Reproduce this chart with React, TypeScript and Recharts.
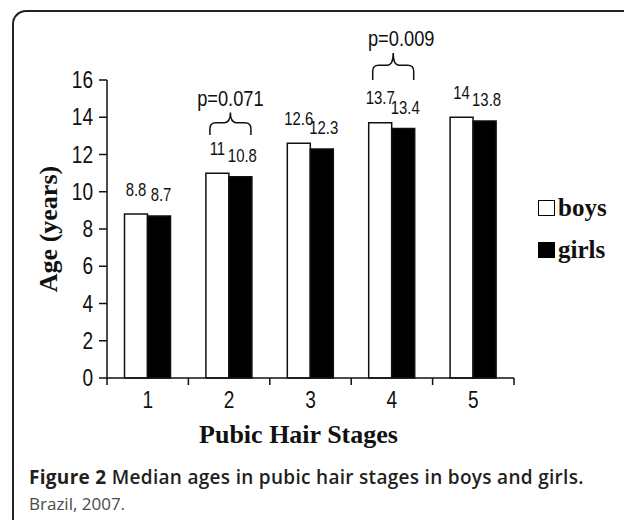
import React from 'react'
import { BarChart, Bar, XAxis, YAxis, LabelList } from 'recharts'

const stages = ['1', '2', '3', '4', '5']
const boys = [8.8, 11, 12.6, 13.7, 14]
const girls = [8.7, 10.8, 12.3, 13.4, 13.8]
const yTicks = [0, 2, 4, 6, 8, 10, 12, 14, 16]
const seriesNames = ['boys', 'girls']
const seriesFills = ['#fff', '#000']

// significance braces: stage, text, brace foot and tip (in years)
const pStages = ['2', '4']
const pTexts = ['p=0.071', 'p=0.009']
const pBase = [13.05, 16.0]
const pTip = [14.25, 17.45]

const data = stages.map((s, i) => ({ stage: s, boys: boys[i], girls: girls[i] }))

const sans = "'Liberation Sans', Arial, sans-serif"
const serif = "'Liberation Serif', 'Times New Roman', serif"
const ink = '#111'

// the original uses a condensed sans; squeeze regular text horizontally
function Narrow({ x, y, size, anchor = 'middle', children }: any) {
  return (
    <g transform={`translate(${x},${y}) scale(0.83,1)`}>
      <text x={0} y={0} textAnchor={anchor} fontFamily={sans} fontSize={size} fill={ink}>
        {children}
      </text>
    </g>
  )
}

function XTick(props: any) {
  const { x, y, payload, index, visibleTicksCount } = props
  const half = payload && payload.offset ? payload.offset : 40.7
  const last = index === (visibleTicksCount || stages.length) - 1
  return (
    <g>
      <line x1={x - half} x2={x - half} y1={y} y2={y + 7} stroke={ink} strokeWidth={1.5} />
      {last && <line x1={x + half} x2={x + half} y1={y} y2={y + 7} stroke={ink} strokeWidth={1.5} />}
      <Narrow x={x} y={y + 30} size={23}>{payload.value}</Narrow>
    </g>
  )
}

function YTick(props: any) {
  const { x, y, payload } = props
  return <Narrow x={x} y={y + 8} size={23} anchor="end">{payload.value}</Narrow>
}

function valueLabel(lift: number, dx: number) {
  return (props: any) => {
    const { x, y, width, value } = props
    return <Narrow x={x + width / 2 + dx} y={y - lift + 6.5} size={18}>{value}</Narrow>
  }
}

function Brace(props: any) {
  const { x, y, width, height, value, index } = props
  const k = pStages.indexOf(stages[index])
  if (k < 0) return null
  const unit = height / value
  const bottom = y + height
  const yBase = bottom - pBase[k] * unit
  const yTip = bottom - pTip[k] * unit
  const yMid = yBase + (yTip - yBase) * 0.55
  const x1 = x + 4
  const x2 = x + 2 * width - 1
  const xc = (x1 + x2) / 2
  const r = 6
  const d = `M${x1},${yBase} L${x1},${yMid + r} Q${x1},${yMid} ${x1 + r},${yMid} L${xc - r},${yMid} Q${xc},${yMid} ${xc},${yTip} Q${xc},${yMid} ${xc + r},${yMid} L${x2 - r},${yMid} Q${x2},${yMid} ${x2},${yMid + r} L${x2},${yBase}`
  return (
    <g>
      <path d={d} fill="none" stroke={ink} strokeWidth={1.5} />
      <Narrow x={xc + (k === 1 ? 8 : 0)} y={yTip - 7} size={22}>{pTexts[k]}</Narrow>
    </g>
  )
}

export default function App() {
  return (
    <div style={{ position: 'absolute', left: 0, top: 0, width: 624, height: 521, background: '#fff', overflow: 'hidden' }}>
      <div
        style={{
          position: 'absolute',
          left: 12,
          top: 10,
          width: 660,
          height: 508,
          borderLeft: '2px solid #222',
          borderTop: '2px solid #222',
          borderTopLeftRadius: 14,
        }}
      />
      <div style={{ position: 'absolute', left: 0, top: 0 }}>
        <BarChart
          width={624}
          height={521}
          data={data}
          margin={{ top: 80, right: 110, bottom: 113, left: 37 }}
          barCategoryGap="21.5%"
          barGap={0}
        >
          <XAxis
            dataKey="stage"
            axisLine={{ stroke: ink, strokeWidth: 1.5 }}
            tickLine={false}
            tickSize={0}
            tickMargin={0}
            height={30}
            tick={<XTick />}
            interval={0}
            label={(p: any) => {
              const vb = p.viewBox
              return (
                <text x={vb.x + vb.width / 2 - 12} y={443} textAnchor="middle" fontFamily={serif} fontWeight={700} fontSize={26} fill={ink}>
                  Pubic Hair Stages
                </text>
              )
            }}
          />
          <YAxis
            domain={[0, 16]}
            ticks={yTicks}
            interval={0}
            width={70}
            axisLine={{ stroke: ink, strokeWidth: 1.5 }}
            tickLine={{ stroke: ink, strokeWidth: 1.5 }}
            tickSize={8}
            tickMargin={6}
            tick={<YTick />}
            label={(p: any) => {
              const vb = p.viewBox
              const cy = vb.y + vb.height / 2
              return (
                <text x={57} y={cy} textAnchor="middle" transform={`rotate(-90, 57, ${cy})`} fontFamily={serif} fontWeight={700} fontSize={26} fill={ink}>
                  Age (years)
                </text>
              )
            }}
          />
          <Bar dataKey="boys" name="boys" fill={seriesFills[0]} stroke={ink} strokeWidth={1.5} isAnimationActive={false}>
            <LabelList dataKey="boys" content={valueLabel(25, 0)} />
            <LabelList dataKey="boys" content={<Brace />} />
          </Bar>
          <Bar dataKey="girls" name="girls" fill={seriesFills[1]} stroke={ink} strokeWidth={1.5} isAnimationActive={false}>
            <LabelList dataKey="girls" content={valueLabel(21, 2)} />
          </Bar>
        </BarChart>
      </div>
      <div style={{ position: 'absolute', left: 538, top: 187 }}>
        {seriesNames.map((n, i) => (
          <div key={n} style={{ display: 'flex', alignItems: 'center', height: 42 }}>
            <span style={{ width: 15, height: 14, background: seriesFills[i], border: '1.5px solid #000', marginRight: 3 }} />
            <span style={{ fontFamily: serif, fontWeight: 700, fontSize: 25, color: ink }}>{n}</span>
          </div>
        ))}
      </div>
      <div style={{ position: 'absolute', left: 29, top: 464, fontFamily: "'Open Sans', sans-serif", fontSize: 19, letterSpacing: 0.3, color: '#231f20', whiteSpace: 'nowrap' }}>
        <span style={{ fontWeight: 700 }}>Figure 2</span> <span style={{ fontWeight: 600 }}>Median ages in pubic hair stages in boys and girls.</span>
      </div>
      <div style={{ position: 'absolute', left: 29, top: 492, fontFamily: "'Open Sans', sans-serif", fontSize: 17, color: '#4a4a4a', whiteSpace: 'nowrap' }}>
        Brazil, 2007.
      </div>
    </div>
  )
}
